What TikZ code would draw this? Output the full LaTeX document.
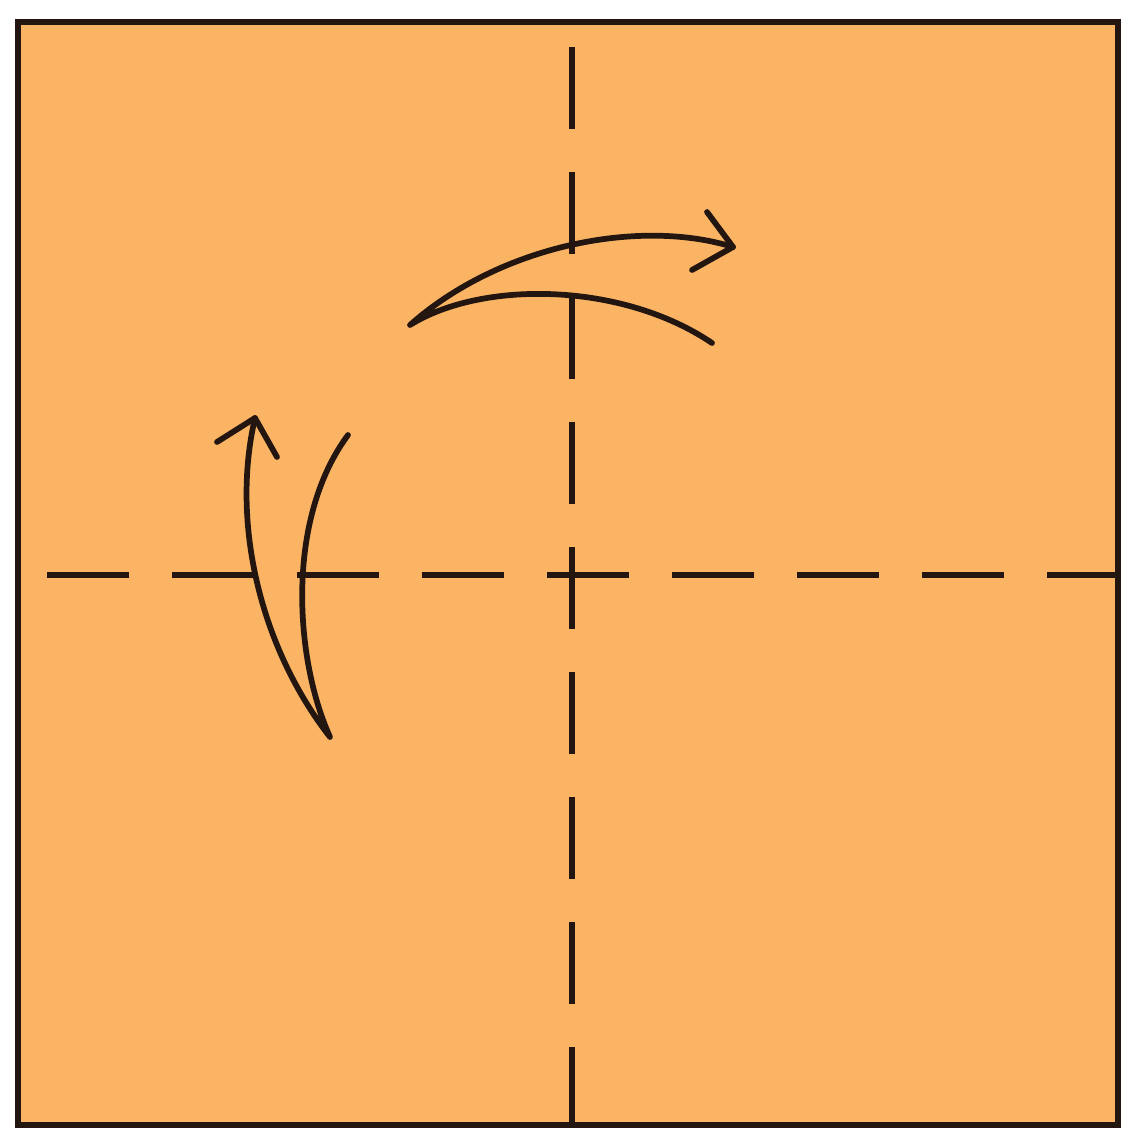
\documentclass[tikz,border=0pt]{standalone}
\begin{document}
\begin{tikzpicture}[x=0.75pt,y=-0.75pt,
  paper/.style={fill=paperorange,draw=inkdark,line width=4.2pt,line join=miter},
  foldline/.style={draw=inkdark,line width=4.5pt,dash pattern=on 61.5pt off 32.25pt},
  arrowline/.style={draw=inkdark,line width=4.3pt,line cap=round,line join=round}]
\definecolor{paperorange}{RGB}{250,180,100}
\definecolor{inkdark}{RGB}{35,22,16}
\useasboundingbox (0,0) rectangle (1122,1130);
% paper square
\draw[paper] (18,22) rectangle (1118,1125);
% fold lines
\draw[foldline] (572,47) -- (572,1125);
\draw[foldline] (47,575) -- (1118,575);
% top arrow
\coordinate (ta) at (410,325);
\coordinate (tb) at (733,247);
\coordinate (tc) at (712,343);
\draw[arrowline] (tc) .. controls (622,282) and (482,280) .. (ta)
  .. controls (500,245) and (640,218) .. (tb);
\draw[arrowline] (707,212) -- (tb) -- (692,270);
% left arrow
\coordinate (la) at (330,737);
\coordinate (lb) at (255,418);
\coordinate (lc) at (348,435);
\draw[arrowline] (lc) .. controls (285,520) and (295,660) .. (la)
  .. controls (262,650) and (230,525) .. (lb);
\draw[arrowline] (217,442) -- (lb) -- (277,457);
\end{tikzpicture}
\end{document}
